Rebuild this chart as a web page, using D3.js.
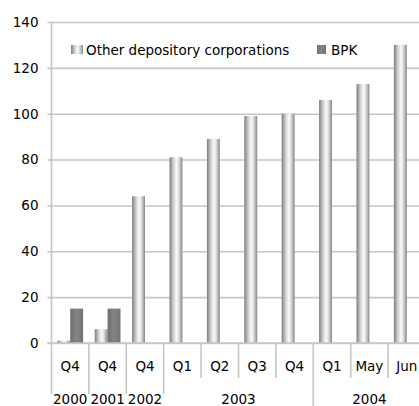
<!DOCTYPE html>
<html><head><meta charset="utf-8">
<script src="https://cdn.jsdelivr.net/npm/d3@7"></script>
<style>
html,body{margin:0;padding:0;background:#fff;}
svg{display:block;font-family:"DejaVu Sans",Verdana,sans-serif;}
</style></head>
<body>
<svg id="chart" width="419" height="406"></svg>
<script>
const categories = ["Q4","Q4","Q4","Q1","Q2","Q3","Q4","Q1","May","Jun"];
const years = ["2000","2001","2002","2003","2003","2003","2003","2004","2004","2004"];
const seriesNames = ["Other depository corporations","BPK"];
const odcValues = [1,6,64,81,89,99,100,106,113,130];
const bpkValues = [15,15,null,null,null,null,null,null,null,null];
const yTicks = [0,20,40,60,80,100,120,140];

const svg = d3.select("#chart");
const W = 419, H = 406;
const mLeft = 51.5, mTop = 22, mBottom = 343;
const band = 37.4;
const mRight = mLeft + band*categories.length;

const defs = svg.append("defs");
const g1 = defs.append("linearGradient").attr("id","gOdc").attr("x1","0").attr("x2","1").attr("y1","0").attr("y2","0");
[[0,"#7c7c7c"],[0.3,"#cfcfcf"],[0.55,"#fbfbfb"],[0.75,"#d6d6d6"],[1,"#858585"]].forEach(s=>g1.append("stop").attr("offset",s[0]).attr("stop-color",s[1]));
const g2 = defs.append("linearGradient").attr("id","gBpk").attr("x1","0").attr("x2","1").attr("y1","0").attr("y2","0");
[[0,"#6f6f6f"],[0.5,"#858585"],[1,"#727272"]].forEach(s=>g2.append("stop").attr("offset",s[0]).attr("stop-color",s[1]));

const idx = d3.range(categories.length);
const x = d3.scaleBand().domain(idx).range([mLeft,mRight]).paddingInner(0).paddingOuter(0);
const x1 = d3.scaleBand().domain([0,1]).range([0,x.bandwidth()]).paddingInner(0).paddingOuter(0.45);
const y = d3.scaleLinear().domain([0,140]).range([mBottom,mTop]);

// gridlines + y axis
const yAxis = d3.axisLeft(y).tickValues(yTicks).tickSize(mRight-mLeft+4).tickPadding(9).tickFormat(d3.format("d"));
const ga = svg.append("g").attr("transform",`translate(${mRight},0)`).call(yAxis);
ga.attr("font-family",null).attr("font-size",null);
ga.select(".domain").remove();
ga.selectAll(".tick line").attr("stroke","#c6c6c6").attr("stroke-width",1.6);
ga.selectAll(".tick text").attr("font-size","13.5px").attr("fill","#000");
// left axis line
svg.append("line").attr("x1",mLeft).attr("x2",mLeft).attr("y1",mTop).attr("y2",394).attr("stroke","#c6c6c6").attr("stroke-width",1.6);

// bars
const barG = svg.append("g");
[odcValues,bpkValues].forEach((vals,si)=>{
  barG.selectAll(null).data(idx.filter(i=>vals[i]!=null)).enter().append("rect")
    .attr("x",i=>x(i)+x1(si)).attr("width",x1.bandwidth())
    .attr("y",i=>y(vals[i])).attr("height",i=>y(0)-y(vals[i]))
    .attr("fill",si===0?"url(#gOdc)":"url(#gBpk)");
});

// x axis baseline
svg.append("line").attr("x1",mLeft-4).attr("x2",W).attr("y1",mBottom).attr("y2",mBottom).attr("stroke","#c6c6c6").attr("stroke-width",1.6);

// category separators
const groupSize = y0 => years.filter(v=>v===y0).length;
const seps = d3.range(1, categories.length+1);
svg.selectAll(null).data(seps).enter().append("line")
  .attr("x1",i=>mLeft+i*band).attr("x2",i=>mLeft+i*band)
  .attr("y1",mBottom).attr("y2",i=>{
    const isYear = (i===categories.length || years[i]!==years[i-1]);
    if(!isYear) return 378;
    const narrow = groupSize(years[i-1])===1 || (i<categories.length && groupSize(years[i])===1);
    return narrow ? 394 : H;
  })
  .attr("stroke","#c6c6c6").attr("stroke-width",1.6);

// category labels
svg.selectAll(null).data(idx).enter().append("text")
  .attr("x",i=>x(i)+x.bandwidth()/2).attr("y",371)
  .attr("text-anchor","middle").attr("font-size","13.5px").attr("fill","#000")
  .text(i=>categories[i]);

// year labels
const yearGroups = d3.groups(idx, i=>years[i]);
svg.selectAll(null).data(yearGroups).enter().append("text")
  .attr("x",d=>{const a=d[1][0], b=d[1][d[1].length-1]; return (x(a)+x(b)+x.bandwidth())/2;})
  .attr("y",403.5).attr("text-anchor","middle").attr("font-size","13.5px").attr("fill","#000")
  .text(d=>d[0]);

// legend
const lg = svg.append("g");
lg.append("rect").attr("x",71).attr("y",45).attr("width",12).attr("height",9).attr("fill","url(#gOdc)");
lg.append("text").attr("x",86).attr("y",55).attr("font-size","13.5px").attr("fill","#000").text(seriesNames[0]);
lg.append("rect").attr("x",317).attr("y",45).attr("width",9).attr("height",9).attr("fill","url(#gBpk)");
lg.append("text").attr("x",331).attr("y",55).attr("font-size","13.5px").attr("fill","#000").text(seriesNames[1]);
</script>
</body></html>
